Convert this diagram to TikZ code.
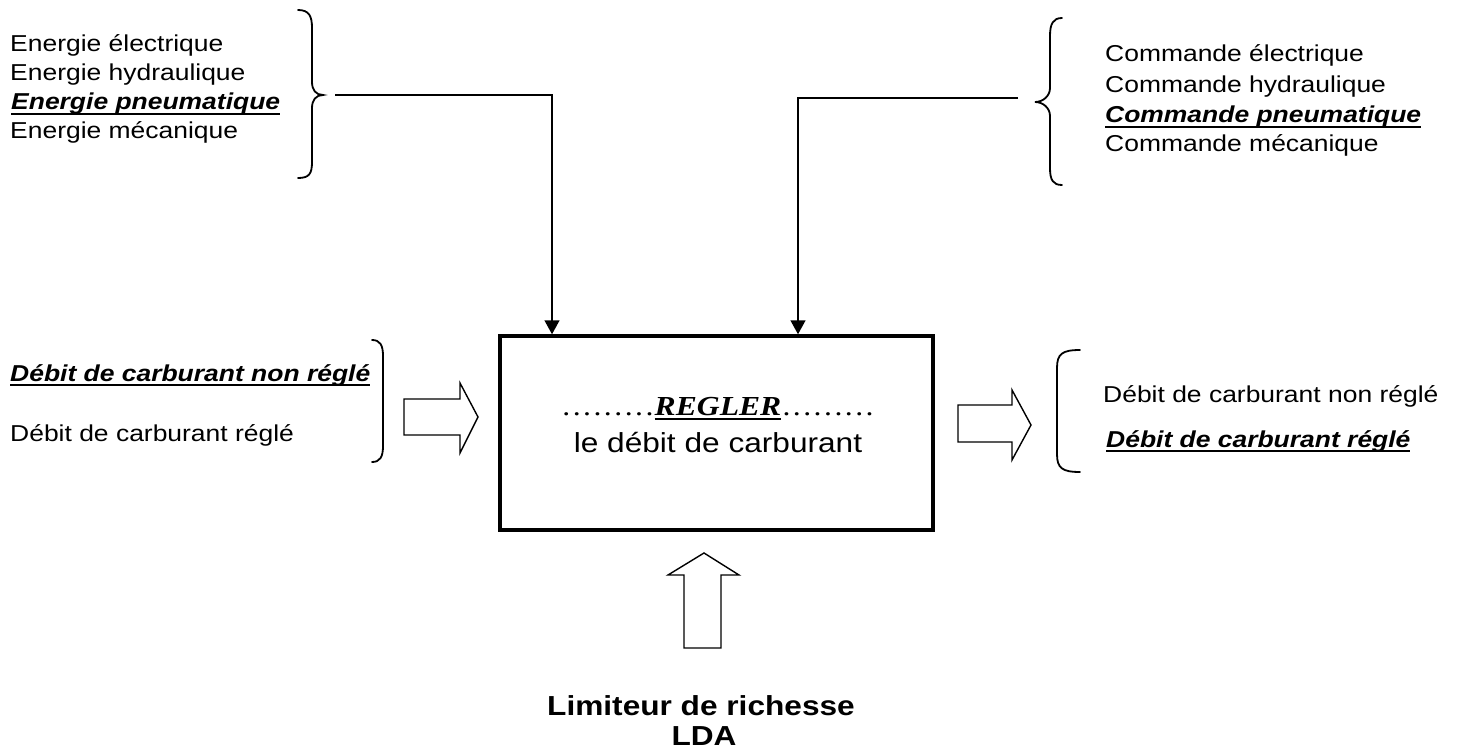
\documentclass[tikz,border=0pt]{standalone}
\usepackage{fontspec}
\setmainfont[FakeStretch=1.15]{Liberation Sans}
\newfontfamily\serifx[FakeStretch=1.15]{Liberation Serif}
\usetikzlibrary{arrows.meta}
\newcommand\ulx[1]{\setbox0=\hbox{#1}\rlap{\raisebox{-5pt}{\rule{\wd0}{1.6pt}}}\box0}
\newcommand\ulR[1]{\setbox0=\hbox{#1}\rlap{\raisebox{-5pt}{\rule{\wd0}{2.4pt}}}\box0}
\newcommand\dotrow{\hbox to 93.6pt{\cleaders\hbox to 10.4pt{\hss.\hss}\hfill}}
\begin{document}
\begin{tikzpicture}[x=1pt,y=-1pt,
  txt/.style={anchor=base west,inner sep=0pt,font=\fontsize{23}{27}\selectfont},
  bigtxt/.style={anchor=base,inner sep=0pt,font=\fontsize{27.5}{32}\selectfont},
  brace/.style={line width=1.8pt,line cap=round},
  conn/.style={line width=1.5pt,-{Triangle[width=15pt,length=14pt]}},
  hollow/.style={line width=1.4pt,line join=miter},
  mainbox/.style={draw,line width=3.5pt,minimum width=433pt,minimum height=194pt,inner sep=0pt}]
\useasboundingbox (0,0) rectangle (1464,751);

% top-left texts
\node[txt] (e1) at (10,52) {Energie électrique};
\node[txt] (e2) at (10,81) {Energie hydraulique};
\node[txt] (e3) at (11,110) {\bfseries\itshape\ulx{Energie pneumatique}};
\node[txt] (e4) at (10,139) {Energie mécanique};

% top-right texts
\node[txt] (c1) at (1105,62) {Commande électrique};
\node[txt] (c2) at (1105,93) {Commande hydraulique};
\node[txt] (c3) at (1105,123) {\bfseries\itshape\ulx{Commande pneumatique}};
\node[txt] (c4) at (1105,152) {Commande mécanique};

% middle-left texts
\node[txt] (d1) at (10,381) {\bfseries\itshape\ulx{Débit de carburant non réglé}};
\node[txt] (d2) at (10,441) {Débit de carburant réglé};

% middle-right texts
\node[txt] (f1) at (1103,402) {Débit de carburant non réglé};
\node[txt] (f2) at (1106,447) {\bfseries\itshape\ulx{Débit de carburant réglé}};

% main box
\node[mainbox] (box) at (716.5,433) {};
\node[bigtxt] (t1) at (718,415) {{\serifx\dotrow}{\serifx\bfseries\itshape\ulR{REGLER}}{\serifx\dotrow}};
\node[bigtxt] (t2) at (718,452) {le débit de carburant};

% bottom texts
\node[bigtxt,font=\fontsize{27.5}{32}\selectfont\bfseries] (b1) at (701,715) {Limiteur de richesse};
\node[bigtxt,font=\fontsize{27.5}{32}\selectfont\bfseries] (b2) at (704,745) {LDA};

% braces
\draw[brace] (298,10) .. controls (309,10) and (312,16) .. (312,28) -- (312,82)
  .. controls (312,90) and (316,95) .. (323,95)
  .. controls (316,95) and (312,100) .. (312,108) -- (312,162)
  .. controls (312,174) and (309,178) .. (298,178);
\draw[brace] (1062,18) .. controls (1053,18) and (1050,24) .. (1050,36) -- (1050,88)
  .. controls (1050,96) and (1043,102) .. (1035,102)
  .. controls (1043,102) and (1050,108) .. (1050,116) -- (1050,168)
  .. controls (1050,180) and (1053,185) .. (1062,185);
\draw[brace] (372,340) .. controls (380,340) and (383,345) .. (383,356) -- (383,446)
  .. controls (383,457) and (380,462) .. (372,462);
\draw[brace] (1080,350) .. controls (1062,350) and (1057,354) .. (1057,368) -- (1057,454)
  .. controls (1057,468) and (1062,472) .. (1080,472);

% connectors from the braces to the box
\coordinate (bl) at (335,95);
\coordinate (br) at (1018,98);
\draw[conn] (bl) -| ([xshift=-164.5pt]box.north);
\draw[conn] (br) -| ([xshift=81.5pt]box.north);

% hollow arrows
\draw[hollow] (404,399) -- (460,399) -- (460,383) -- (478,417) -- (460,453) -- (460,435) -- (404,435) -- cycle;
\draw[hollow] (958,405) -- (1012,405) -- (1012,390) -- (1031,425) -- (1012,460) -- (1012,442) -- (958,442) -- cycle;
\draw[hollow] (684,648) -- (684,575) -- (668,575) -- (704,553) -- (739,575) -- (721,575) -- (721,648) -- cycle;
\end{tikzpicture}
\end{document}
